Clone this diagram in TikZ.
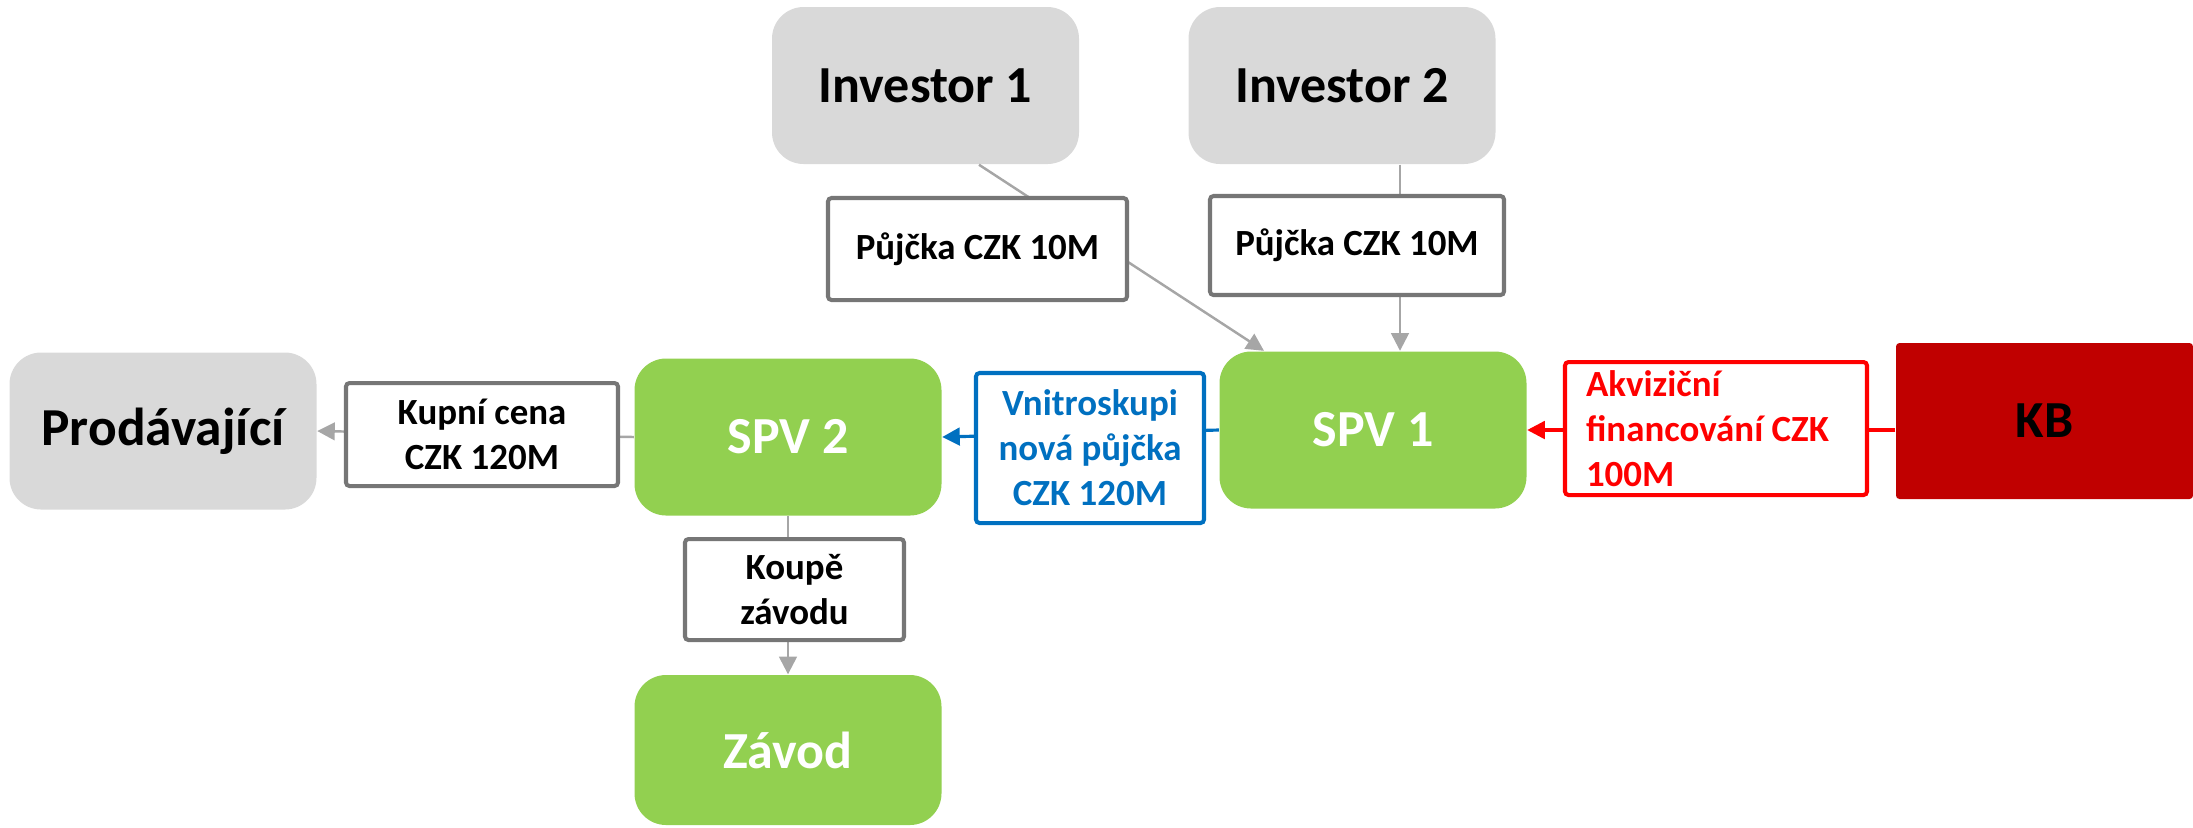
\documentclass[tikz,border=0pt]{standalone}
\usepackage{fontspec}
\setmainfont{Carlito}
\usetikzlibrary{arrows.meta}

\definecolor{boxgray}{HTML}{D9D9D9}
\definecolor{spvgreen}{HTML}{92D050}
\definecolor{kbred}{HTML}{C00000}
\definecolor{edgegray}{HTML}{767676}
\definecolor{linegray}{HTML}{A6A6A6}
\definecolor{loanblue}{HTML}{0070C0}
\definecolor{acqred}{HTML}{FF0000}

\begin{document}
\begin{tikzpicture}[
        party/.style={rounded corners=9pt, minimum width=3.07cm, minimum height=1.57cm, inner sep=0pt, font=\fontsize{14.8}{17}\selectfont\bfseries},
        gparty/.style={party, fill=boxgray, text=black},
        spv/.style={party, fill=spvgreen, text=white},
        flow/.style={draw=edgegray, line width=1.15pt, fill=white, rounded corners=1pt, inner sep=0pt, align=center, font=\fontsize{10.5}{12.8}\selectfont\bfseries},
        conn/.style={draw=linegray, line width=0.7pt, -{Triangle[length=5pt,width=5pt]}}
    ]

                \useasboundingbox (0,0) rectangle (21.93,-8.27);

                \node[gparty] (inv1) at (9.255,-0.855) {Investor 1};
                \node[gparty] (inv2) at (13.42,-0.855) {Investor 2};
                \node[gparty, font=\fontsize{15.2}{17}\selectfont\bfseries] (prod) at (1.63,-4.31) {Prodávající};
                \node[spv] (spv1) at (13.73,-4.30) {SPV 1};
                \node[spv] (spv2) at (7.88,-4.37) {SPV 2};
                \node[spv, minimum height=1.50cm] (zavod) at (7.88,-7.50) {Závod};
                \node[party, rounded corners=1pt, fill=kbred, minimum width=2.97cm, minimum height=1.56cm] (kb) at (20.445,-4.21) {KB};

                \draw[conn] ([xshift=0.535cm]inv1.south) -- ([xshift=-1.09cm]spv1.north);
                \draw[conn] ([xshift=0.58cm]inv2.south) -- ([xshift=0.27cm]spv1.north);
                \draw[conn, draw=acqred, line width=0.9pt] (kb.west |- spv1.east) -- (spv1.east);
                \draw[conn, draw=loanblue, line width=0.9pt] (spv1.west) -- (spv2.east);
                \draw[conn] (spv2.west) -- (prod.east);
                \draw[conn] (spv2.south) -- (zavod.north);

                \node[flow, minimum width=2.99cm, minimum height=1.02cm] (loan1) at (9.775,-2.49) {Půjčka CZK 10M};
                \node[flow, minimum width=2.94cm, minimum height=0.99cm] (loan2) at (13.57,-2.455) {Půjčka CZK 10M};
                \node[flow, minimum width=2.72cm, minimum height=1.03cm] (price) at (4.82,-4.345) {Kupní cena\\CZK 120M};
                \node[flow, minimum width=2.19cm, minimum height=1.01cm] (purchase) at (7.945,-5.895) {Koupě\\závodu};
                \node[flow, draw=loanblue, text=loanblue, minimum width=2.28cm, minimum height=1.50cm] (intra) at (10.90,-4.48) {Vnitroskupi\\nová půjčka\\CZK 120M};
                \node[flow, draw=acqred, text=acqred, align=flush left, text width=2.6cm, minimum width=3.02cm, minimum height=1.33cm] (acq) at (17.16,-4.285) {Akviziční\\financování CZK\\100M};

\end{tikzpicture}
\end{document}
